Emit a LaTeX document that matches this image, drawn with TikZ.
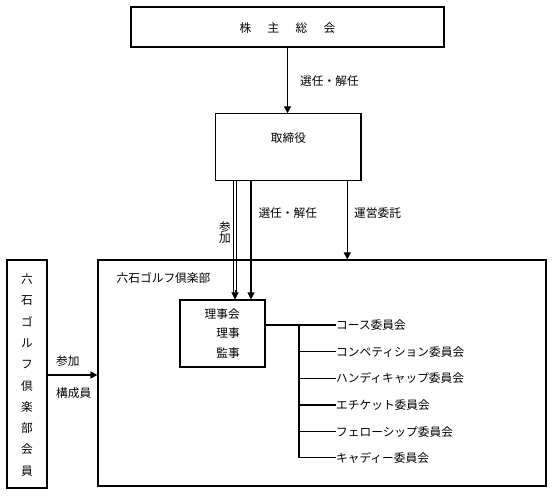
\documentclass[tikz,border=0pt]{standalone}
\usepackage{fontspec}
\newfontfamily\jp{Noto Sans CJK JP}
\usetikzlibrary{arrows.meta}
\begin{document}
\begin{tikzpicture}[x=1pt,y=-1pt,
  box/.style={draw, line width=1.2pt, inner sep=0pt},
  txt/.style={inner sep=0pt, font=\jp\fontsize{11.7}{14}\selectfont},
  conn/.style={line width=1.2pt},
  thinconn/.style={line width=0.9pt},
  arr/.style={line width=1.2pt, -{Triangle[length=7pt,width=7pt]}}]
\useasboundingbox (0,0) rectangle (553,496);
% boxes
\node[box, minimum width=313pt, minimum height=40pt] (soukai) at (287.5,27) {};
\node[txt] (soukaitxt) at (287.5,28) {株\hspace{16.3pt}主\hspace{16.3pt}総\hspace{16.3pt}会};
\node[box, minimum width=145.3pt, minimum height=66.3pt] (tori) at (288.3,147) {};
\node[txt] (toritxt) at (288.5,138) {取締役};
\node[box, minimum width=448pt, minimum height=226pt] (club) at (322,373) {};
\node[txt, anchor=west] (clubtxt) at (116.5,278) {六石ゴルフ倶楽部};
\node[box, minimum width=40pt, minimum height=228pt] (member) at (27,374) {};
\node[txt, align=center, font=\jp\fontsize{11.7}{21.3}\selectfont] (membertxt) at (27,375) {六\\石\\ゴ\\ル\\フ\\倶\\楽\\部\\会\\員};
\node[box, minimum width=85pt, minimum height=67pt] (riji) at (222.5,333.5) {};
\node[txt, align=right, anchor=east, font=\jp\fontsize{11.7}{19.5}\selectfont] (rijitxt) at (240,333.5) {理事会\\理事\\監事};
% committees
\node[txt, anchor=west] (c1) at (336,325) {コース委員会};
\node[txt, anchor=west] (c2) at (336,351.7) {コンペティション委員会};
\node[txt, anchor=west] (c3) at (336,378.3) {ハンディキャップ委員会};
\node[txt, anchor=west] (c4) at (336,405) {エチケット委員会};
\node[txt, anchor=west] (c5) at (336,431.7) {フェローシップ委員会};
\node[txt, anchor=west] (c6) at (336,457.7) {キャディー委員会};
% helper coordinates
\coordinate (xa) at (233.7,0);
\coordinate (xb) at (236.2,0);
\coordinate (xab) at (235,0);
\coordinate (xc) at (251,0);
\coordinate (xd) at (347.3,0);
\coordinate (trunk) at (299,0);
\coordinate (yarr) at (0,375);
% connectors
\draw[arr] (soukai.south) -- (soukai.south |- tori.north);
\node[txt, anchor=west] (l1) at (300,81) {選任・解任};
\draw[thinconn] (xa |- tori.south) -- ([yshift=5pt]xa |- riji.north);
\draw[thinconn] (xb |- tori.south) -- ([yshift=5pt]xb |- riji.north);
\draw[arr, line width=0.1pt] ([yshift=9pt]xab |- riji.north) -- (xab |- riji.north);
\node[txt, align=center, font=\jp\fontsize{11.7}{11.7}\selectfont] (l2) at (225,232.5) {参\\加};
\draw[arr] (xc |- tori.south) -- (xc |- riji.north);
\node[txt, anchor=west] (l3) at (258.3,213.3) {選任・解任};
\draw[arr] (xd |- tori.south) -- (xd |- club.north);
\node[txt, anchor=west] (l4) at (354,213) {運営委託};
\draw[arr] (member.east |- yarr) -- (club.west |- yarr);
\node[txt, anchor=west] (l5) at (56,361) {参加};
\node[txt, anchor=west] (l6) at (56,393) {構成員};
\draw[conn] (riji.east |- c1.west) -- (c1.west);
\draw[conn] (trunk |- c1.west) -- (trunk |- c6.west);
\foreach \c in {c2,c3,c4,c5,c6} \draw[conn] (trunk |- \c.west) -- (\c.west);
\end{tikzpicture}
\end{document}
